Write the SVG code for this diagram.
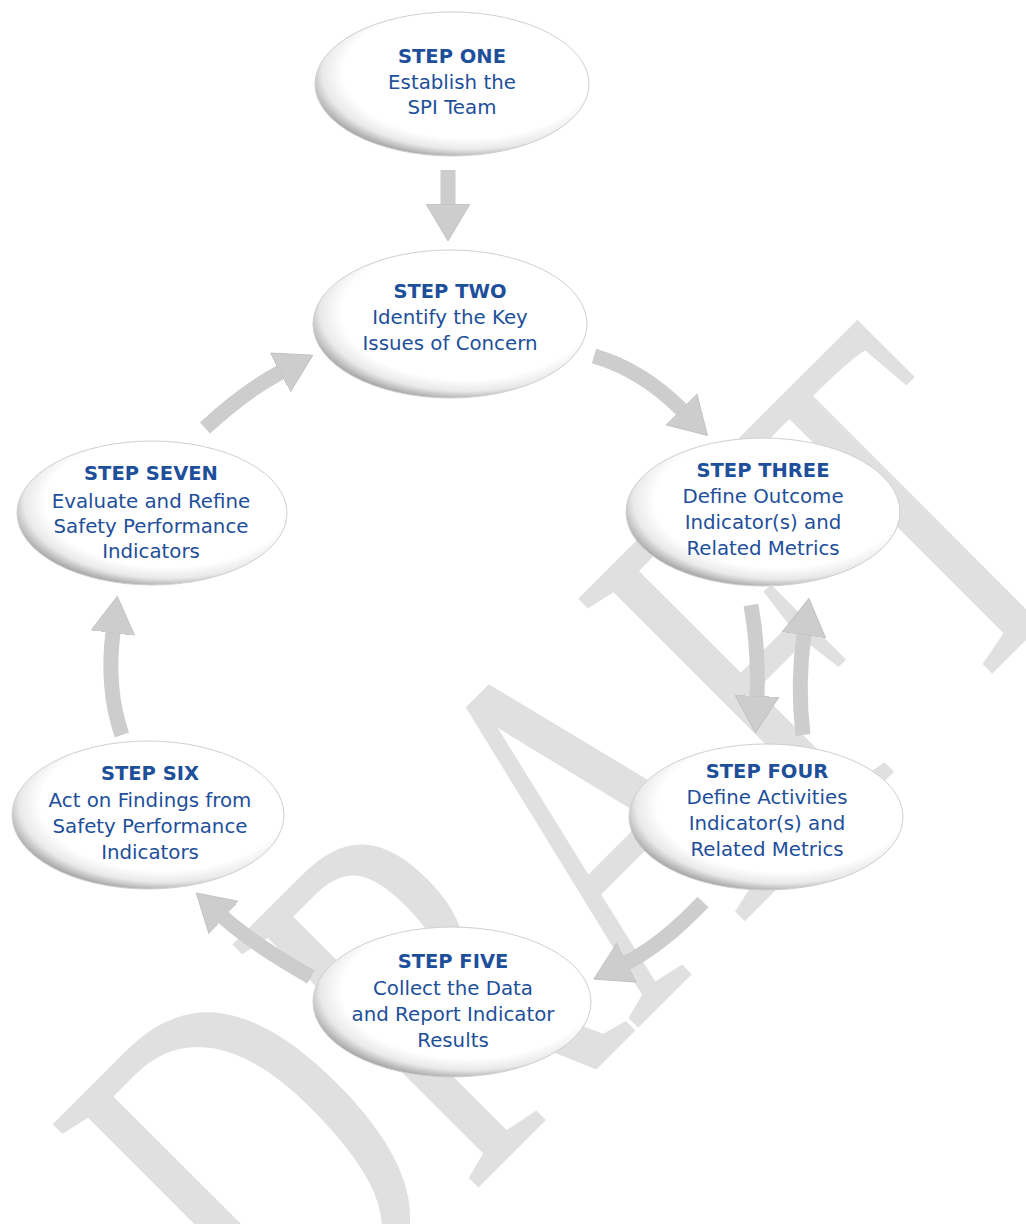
<svg xmlns="http://www.w3.org/2000/svg" width="1026" height="1224" viewBox="0 0 1026 1224">
<style>
.wm{font-family:"Liberation Serif","Times New Roman",serif;font-size:352px;fill:#e0e0e0}
.node{fill:url(#eg);stroke:#cfcfcf;stroke-width:1}
.t{font-family:"DejaVu Sans",Verdana,sans-serif;font-size:19.8px;fill:#1e4f9a;text-anchor:middle}
.h{font-weight:bold;font-size:19.5px}
.arr{fill:none;stroke:#cdcdcd;stroke-width:15;stroke-linecap:butt;marker-end:url(#ah)}
</style>
<defs>
<radialGradient id="eg" cx="0.56" cy="0.42" r="0.6">
<stop offset="0" stop-color="#ffffff"/>
<stop offset="0.76" stop-color="#ffffff"/>
<stop offset="0.89" stop-color="#e9e9e9"/>
<stop offset="1" stop-color="#a2a2a2"/>
</radialGradient>
<marker id="ah" markerUnits="userSpaceOnUse" viewBox="0 0 38 44" refX="1" refY="22" markerWidth="38" markerHeight="44" orient="auto">
<path d="M0,0 L37,22 L0,44 Z" fill="#cdcdcd" stroke="#bdbdbd" stroke-width="0.8"/>
</marker>
</defs>
<rect width="1026" height="1224" fill="#ffffff"/>
<text class="wm" transform="translate(290,1376) rotate(-45) scale(1,1.5)">DRAFT</text>

<g id="connectors">
<path class="arr" d="M448,170 L448,205"/>
<path class="arr" d="M594,356 Q642,370 682,410"/>
<path class="arr" d="M751,605 Q759,650 757,697"/>
<path class="arr" d="M803,735 Q797,685 804,634"/>
<path class="arr" d="M703,902 Q662,945 626,963"/>
<path class="arr" d="M311,977 Q253,944 223,917"/>
<path class="arr" d="M122,735 Q106,690 113,632"/>
<path class="arr" d="M205,428 Q245,391 281,372"/>
</g>

<g id="step1">
<ellipse class="node" cx="452" cy="84" rx="137" ry="72"/>
<text class="t h" x="452" y="63">STEP ONE</text>
<text class="t" x="452" y="89">Establish the</text>
<text class="t" x="452" y="114">SPI Team</text>
</g>
<g id="step2">
<ellipse class="node" cx="450" cy="324" rx="137" ry="74"/>
<text class="t h" x="450" y="298">STEP TWO</text>
<text class="t" x="450" y="324">Identify the Key</text>
<text class="t" x="450" y="350">Issues of Concern</text>
</g>
<g id="step3">
<ellipse class="node" cx="763" cy="512" rx="137" ry="74"/>
<text class="t h" x="763" y="477">STEP THREE</text>
<text class="t" x="763" y="503">Define Outcome</text>
<text class="t" x="763" y="529">Indicator(s) and</text>
<text class="t" x="763" y="555">Related Metrics</text>
</g>
<g id="step4">
<ellipse class="node" cx="766" cy="817" rx="137" ry="73"/>
<text class="t h" x="767" y="778">STEP FOUR</text>
<text class="t" x="767" y="804">Define Activities</text>
<text class="t" x="767" y="830">Indicator(s) and</text>
<text class="t" x="767" y="856">Related Metrics</text>
</g>
<g id="step5">
<ellipse class="node" cx="452" cy="1002" rx="139" ry="75"/>
<text class="t h" x="453" y="968">STEP FIVE</text>
<text class="t" x="453" y="995">Collect the Data</text>
<text class="t" x="453" y="1021">and Report Indicator</text>
<text class="t" x="453" y="1047">Results</text>
</g>
<g id="step6">
<ellipse class="node" cx="148" cy="815" rx="136" ry="74"/>
<text class="t h" x="150" y="780">STEP SIX</text>
<text class="t" x="150" y="807">Act on Findings from</text>
<text class="t" x="150" y="833">Safety Performance</text>
<text class="t" x="150" y="859">Indicators</text>
</g>
<g id="step7">
<ellipse class="node" cx="152" cy="513" rx="135" ry="72"/>
<text class="t h" x="151" y="480">STEP SEVEN</text>
<text class="t" x="151" y="508">Evaluate and Refine</text>
<text class="t" x="151" y="533">Safety Performance</text>
<text class="t" x="151" y="558">Indicators</text>
</g>
</svg>
